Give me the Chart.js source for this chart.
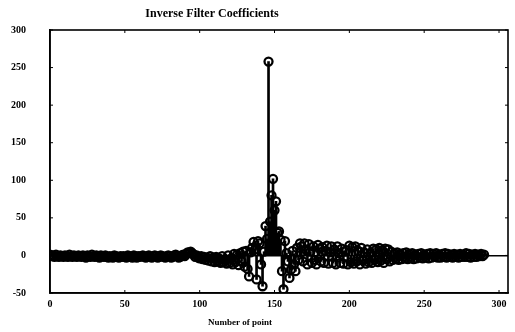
<!DOCTYPE html>
<html><head><meta charset="utf-8">
<script src="https://cdn.jsdelivr.net/npm/chart.js@4"></script>
<style>html,body{margin:0;padding:0;background:#fff}</style>
</head><body>
<canvas id="c" width="515" height="332"></canvas>
<script>
const chartTitle = 'Inverse Filter Coefficients';
const xAxisTitle = 'Number of point';
const xTickValues = [0, 50, 100, 150, 200, 250, 300];
const yTickValues = [-50, 0, 50, 100, 150, 200, 250, 300];
const coefficients = [
  1, -1, 0, -2, 1, -1, -2, 0, -1, -2,
  0, -1, -2, 1, -1, -2, 0, -1, -2, 0,
  -1, -2, 0, -1, -3, 0, -1, -2, 1, -1,
  -2, 0, -1, -3, 0, -1, -2, 0, -2, -3,
  -1, -2, -3, 0, -1, -2, -3, -1, -2, -1,
  -2, -3, 0, -1, -2, -3, 0, -1, -3, -1,
  -2, -1, 0, -2, -3, -1, 0, -2, -3, -1,
  0, -1, -3, -2, 0, -1, -2, -3, -1, 0,
  -1, -3, -2, 0, 1, -1, -3, -2, 0, 1,
  -1, 2, 4, 3, 5, 3, 1, -2, 0, -3,
  -4, -1, -5, -2, -6, -3, -7, -1, -8, -3,
  -9, -2, -8, -4, -10, -1, -9, -5, -11, 0,
  -10, -4, -12, 2, -9, 1, -13, 3, -8, 5,
  -15, 6, -18, -28, 4, 10, 18, 8, -32, 19,
  16, -12, -41, 5, 39, 22, 258, 45, 80, 102,
  60, 72, 30, 32, 21, -21, -45, 19, 3, -8,
  -30, -19, 6, -12, -21, 10, -6, 16, 12, -8,
  16, 8, -12, 15, 5, -10, 12, -6, -12, 14,
  9, -8, 11, -10, 6, 13, -11, 4, 12, -10,
  8, -12, 12, 3, -10, 9, -11, 5, 7, -12,
  13, -9, 11, -11, 12, -8, 6, -12, 10, -7,
  4, -11, 8, -9, 3, -10, 9, -6, 8, -9,
  10, -7, 7, -10, 9, -5, 8, -8, 5, -6,
  3, -5, 4, -6, 2, -5, 3, -4, 4, -5,
  2, -4, 3, -5, 1, -4, 2, -3, 3, -4,
  1, -3, 2, -4, 3, -3, 2, -2, 3, -3,
  1, -3, 2, -2, 3, -3, 2, -2, 1, -3,
  2, -2, 1, -3, 2, -2, 1, -2, 3, -2,
  2, -3, 1, -2, 2, -2, 1, -1, 2, -1,
  1
];
const pointIndex = coefficients.map((_, i) => i);
const stemData = pointIndex.map((x, i) => ({ x: x, y: coefficients[i] }));

const SERIF = '"Liberation Serif", "DejaVu Serif", serif';

const framePlugin = {
  id: 'frame',
  afterDraw(chart) {
    const { ctx, chartArea: a, scales } = chart;
    ctx.save();
    ctx.strokeStyle = '#000';
    ctx.lineWidth = 1.6;
    ctx.strokeRect(a.left, a.top, a.right - a.left, a.bottom - a.top);
    ctx.lineWidth = 1;
    scales.x.ticks.forEach(t => {
      const px = scales.x.getPixelForValue(t.value);
      ctx.beginPath();
      ctx.moveTo(px, a.bottom); ctx.lineTo(px, a.bottom - 3);
      ctx.moveTo(px, a.top); ctx.lineTo(px, a.top + 3);
      ctx.stroke();
    });
    scales.y.ticks.forEach(t => {
      const py = scales.y.getPixelForValue(t.value);
      ctx.beginPath();
      ctx.moveTo(a.left, py); ctx.lineTo(a.left + 3, py);
      ctx.moveTo(a.right, py); ctx.lineTo(a.right - 3, py);
      ctx.stroke();
    });
    ctx.fillStyle = '#000';
    ctx.textAlign = 'center';
    ctx.textBaseline = 'middle';
    ctx.font = 'bold 12px ' + SERIF;
    ctx.fillText(chartTitle, 212, 14);
    ctx.font = 'bold 9px ' + SERIF;
    ctx.fillText(xAxisTitle, 240, 323);
    ctx.restore();
  }
};

new Chart(document.getElementById('c'), {
  data: {
    datasets: [
      {
        type: 'scatter',
        data: stemData,
        showLine: false,
        pointStyle: 'circle',
        pointRadius: 4,
        pointBorderWidth: 2.3,
        pointBorderColor: '#000',
        pointBackgroundColor: 'rgba(255,255,255,0)',
        order: 0
      },
      {
        type: 'bar',
        data: stemData,
        backgroundColor: '#000',
        borderWidth: 0,
        barThickness: 2,
        order: 1
      }
    ]
  },
  options: {
    responsive: false,
    animation: false,
    devicePixelRatio: 1,
    layout: { padding: { top: 29, right: 7, left: 0, bottom: 0 } },
    plugins: { legend: { display: false }, tooltip: { enabled: false }, title: { display: false } },
    scales: {
      x: {
        type: 'linear',
        min: 0, max: 306,
        offset: false,
        grid: { display: false, drawTicks: false },
        border: { display: true, color: '#000', width: 1.6 },
        afterBuildTicks: s => { s.ticks = xTickValues.map(v => ({ value: v })); },
        afterFit: s => { s.height = 39; },
        ticks: { color: '#000', padding: 5, maxRotation: 0, font: { family: SERIF, size: 10, weight: 'bold' } }
      },
      y: {
        type: 'linear',
        min: -50, max: 300,
        grid: {
          drawTicks: false,
          color: c => (c.tick && c.tick.value === 0) ? '#000' : 'rgba(0,0,0,0)',
          lineWidth: 1.5
        },
        border: { display: true, color: '#000', width: 1.6 },
        afterBuildTicks: s => { s.ticks = yTickValues.map(v => ({ value: v })); },
        afterFit: s => { s.width = 50; },
        ticks: { color: '#000', padding: 24, font: { family: SERIF, size: 10, weight: 'bold' } }
      }
    }
  },
  plugins: [framePlugin]
});
</script>
</body></html>
